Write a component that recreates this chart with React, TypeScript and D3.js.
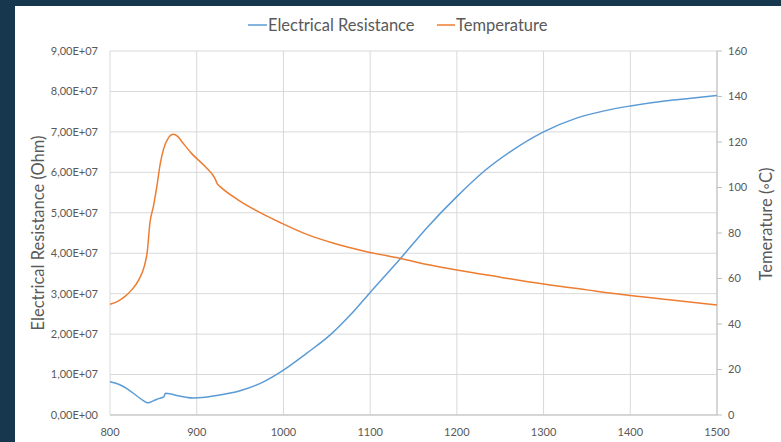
import * as d3 from 'd3'

const resistanceX = [800, 810, 819, 831, 838, 844, 850, 857, 862, 864, 870, 877, 885, 896, 910, 923, 950, 977, 1000, 1027, 1054, 1077, 1100, 1135, 1165, 1200, 1231, 1261, 1300, 1338, 1370, 1400, 1442, 1470, 1500]
const resistanceY = [8.2e6, 7.6e6, 6.6e6, 4.7e6, 3.6e6, 3.0e6, 3.5e6, 4.1e6, 4.5e6, 5.4e6, 5.2e6, 4.8e6, 4.5e6, 4.2e6, 4.4e6, 4.8e6, 6.0e6, 8.2e6, 1.11e7, 1.53e7, 1.98e7, 2.47e7, 3.03e7, 3.87e7, 4.62e7, 5.4e7, 6.02e7, 6.5e7, 7.0e7, 7.34e7, 7.52e7, 7.64e7, 7.77e7, 7.83e7, 7.9e7]

const temperatureX = [800, 810, 817, 825, 833, 840, 843, 846, 850, 854, 858, 862, 867, 873, 878, 883, 894, 910, 921, 924, 927, 948, 971, 998, 1027, 1058, 1096, 1135, 1169, 1200, 1250, 1300, 1350, 1400, 1450, 1500]
const temperatureY = [48.7, 50.2, 52, 55, 59.3, 66, 71.8, 84.3, 91.6, 100.4, 110.6, 117.2, 121.6, 123.4, 122.5, 120.1, 115, 109.1, 104, 101.5, 100.4, 94.5, 89.4, 84.3, 79.4, 75.5, 71.8, 68.8, 65.9, 63.7, 60.6, 57.6, 55, 52.5, 50.4, 48.4]

const xTicks = [800, 900, 1000, 1100, 1200, 1300, 1400, 1500]
const leftTicks = [0, 1e7, 2e7, 3e7, 4e7, 5e7, 6e7, 7e7, 8e7, 9e7]
const rightTicks = [0, 20, 40, 60, 80, 100, 120, 140, 160]

const W = 781
const H = 442
const plot = { left: 110, right: 717, top: 51, bottom: 415 }
const font = 'Lato, "Noto Sans", sans-serif'

const fmtSci = (v: number) => {
  const exp = v === 0 ? 0 : Math.floor(Math.log10(v))
  const mant = v / Math.pow(10, exp)
  return `${mant.toFixed(2).replace('.', ',')}E+${String(exp).padStart(2, '0')}`
}

export default function App() {
  const x = d3.scaleLinear().domain([800, 1500]).range([plot.left, plot.right])
  const yL = d3.scaleLinear().domain([0, 9e7]).range([plot.bottom, plot.top])
  const yR = d3.scaleLinear().domain([0, 160]).range([plot.bottom, plot.top])

  const resLine = d3.line<number>()
    .x((_, i) => x(resistanceX[i]))
    .y(d => yL(d))
    .curve(d3.curveMonotoneX)
  const tempLine = d3.line<number>()
    .x((_, i) => x(temperatureX[i]))
    .y(d => yR(d))
    .curve(d3.curveMonotoneX)

  return (
    <svg width={W} height={H} style={{ position: 'absolute', left: 0, top: 0 }}>
      <rect x={0} y={0} width={W} height={H} fill="#17374f" />
      <rect x={15} y={6} width={W - 15} height={H - 6} fill="#ffffff" />

      {/* grid */}
      {leftTicks.map(t => (
        <line key={'h' + t} x1={plot.left} x2={plot.right} y1={yL(t)} y2={yL(t)} stroke="#d9d9d9" strokeWidth={1} />
      ))}
      {xTicks.map(t => (
        <line key={'v' + t} x1={x(t)} x2={x(t)} y1={plot.top} y2={plot.bottom} stroke="#d9d9d9" strokeWidth={1} />
      ))}
      <line x1={plot.left} x2={plot.right} y1={plot.bottom} y2={plot.bottom} stroke="#bfbfbf" />
      <line x1={plot.right} x2={plot.right} y1={plot.top} y2={plot.bottom} stroke="#bfbfbf" />
      {rightTicks.map(t => (
        <line key={'rt' + t} x1={plot.right} x2={plot.right + 5} y1={yR(t)} y2={yR(t)} stroke="#bfbfbf" />
      ))}

      {/* tick labels */}
      {leftTicks.map(t => (
        <text key={'lt' + t} x={plot.left - 12} y={yL(t)} dy="0.35em" textAnchor="end" fontFamily={font} fontSize={11} fill="#595959">
          {fmtSci(t)}
        </text>
      ))}
      {rightTicks.map(t => (
        <text key={'rl' + t} x={plot.right + 11} y={yR(t)} dy="0.35em" textAnchor="start" fontFamily={font} fontSize={11} fill="#595959">
          {t}
        </text>
      ))}
      {xTicks.map(t => (
        <text key={'xl' + t} x={x(t)} y={plot.bottom + 17} dy="0.35em" textAnchor="middle" fontFamily={font} fontSize={11} fill="#595959">
          {t}
        </text>
      ))}

      {/* series */}
      <path d={resLine(resistanceY) || ''} fill="none" stroke="#5b9bd5" strokeWidth={1.5} />
      <path d={tempLine(temperatureY) || ''} fill="none" stroke="#ed7d31" strokeWidth={1.5} />

      {/* axis titles */}
      <text transform={`translate(38,233) rotate(-90)`} dy="0.35em" textAnchor="middle" fontFamily={font} fontSize={16.5} fill="#595959">
        Electrical Resistance (Ohm)
      </text>
      <text transform={`translate(766,224) rotate(-90)`} dy="0.35em" textAnchor="middle" fontFamily={font} fontSize={16.5} fill="#595959">
        Temerature (◦C)
      </text>

      {/* legend */}
      <line x1={248} x2={267} y1={25} y2={25} stroke="#5b9bd5" strokeWidth={1.5} />
      <text x={268} y={25} dy="0.35em" fontFamily={font} fontSize={16.5} fill="#595959">Electrical Resistance</text>
      <line x1={437} x2={455} y1={25} y2={25} stroke="#ed7d31" strokeWidth={1.5} />
      <text x={456} y={25} dy="0.35em" fontFamily={font} fontSize={16.5} fill="#595959">Temperature</text>
    </svg>
  )
}
